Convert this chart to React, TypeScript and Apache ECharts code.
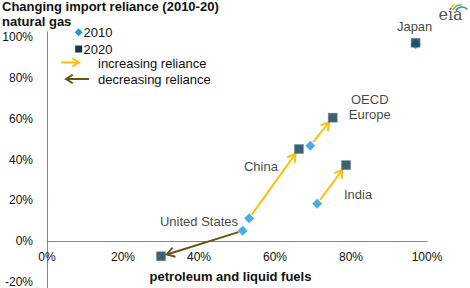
import React, { useEffect, useRef } from "react";
import * as echarts from "echarts";

const countries = ["United States", "China", "OECD Europe", "India", "Japan"];
const countryLabels = ["United States", "China", "OECD\nEurope", "India", "Japan"];
const petrol2010 = [51.5, 53.2, 69.3, 71.1, 97.0];
const gas2010 = [5.0, 11.2, 46.8, 18.3, 96.7];
const petrol2020 = [30.0, 66.3, 75.2, 78.7, 97.0];
const gas2020 = [-7.5, 45.2, 60.6, 37.3, 97.4];
const yTicks = [-20, 0, 20, 40, 60, 80, 100];

const FONT = "Arial, 'Liberation Sans', sans-serif";
const BLUE = "#1a9bd7";
const NAVY = "#0d3a52";
const YELLOW = "#fcbf0f";
const BROWN = "#6b5211";
const TEXT = "#111";
const AXIS = "#868686";

// label offsets (pixels) relative to the 2020 marker
const labelOffsets: [number, number][] = [
  [38, -35],
  [-38, 17],
  [37, -11],
  [12, 29],
  [-1, -16],
];

export default function App() {
  const ref = useRef<HTMLDivElement>(null);
  useEffect(() => {
    if (!ref.current) return;
    const chart = echarts.init(ref.current, null, { renderer: "svg" });

    const arrowData = countries.map((c, i) => [
      petrol2010[i],
      gas2010[i],
      petrol2020[i],
      gas2020[i],
    ]);

    const chevron = (tx: number, ty: number, ux: number, uy: number, len: number) => {
      const ang = (32 * Math.PI) / 180;
      const bx = -ux, by = -uy;
      const r1x = bx * Math.cos(ang) - by * Math.sin(ang);
      const r1y = bx * Math.sin(ang) + by * Math.cos(ang);
      const r2x = bx * Math.cos(-ang) - by * Math.sin(-ang);
      const r2y = bx * Math.sin(-ang) + by * Math.cos(-ang);
      return [
        [tx + r1x * len, ty + r1y * len],
        [tx, ty],
        [tx + r2x * len, ty + r2y * len],
      ];
    };

    const legendArrow = (x1: number, x2: number, y: number, color: string) => {
      const dir = x2 > x1 ? 1 : -1;
      return [
        { type: "line", shape: { x1, y1: y, x2: x2 - dir * 1, y2: y }, style: { stroke: color, lineWidth: 2 } },
        {
          type: "polyline",
          shape: { points: chevron(x2, y, dir, 0, 8) },
          style: { stroke: color, lineWidth: 2, fill: "none" },
        },
      ];
    };

    chart.setOption({
      animation: false,
      grid: [
        { left: 47, right: 43, top: 31.7, bottom: 0, containLabel: false, outerBoundsMode: "none" },
        { left: 47, right: 43, top: 31.7, bottom: 47, containLabel: false, outerBoundsMode: "none" },
      ],
      xAxis: [
        {
          type: "value",
          gridIndex: 0,
          min: 0,
          max: 100,
          interval: 20,
          axisLine: { show: false },
          axisTick: { show: false },
          splitLine: { show: false },
          axisLabel: { show: false },
        },
        {
          type: "value",
          gridIndex: 1,
          min: 0,
          max: 100,
          interval: 20,
          axisLine: { onZero: false, lineStyle: { color: AXIS, width: 1 } },
          axisTick: { show: false },
          splitLine: { show: false },
          axisLabel: {
            formatter: (v: number) => v + "%",
            color: TEXT,
            fontSize: 12,
            fontFamily: FONT,
            margin: 10,
          },
        },
      ],
      yAxis: [
        {
          type: "value",
          gridIndex: 0,
          min: -23.1,
          max: 102.85,
          axisLine: { show: true, onZero: false, lineStyle: { color: AXIS, width: 1 } },
          axisTick: { show: false },
          splitLine: { show: false },
          axisLabel: {
            customValues: yTicks,
            formatter: (v: number) => Math.round(v) + "%",
            color: TEXT,
            fontSize: 12,
            fontFamily: FONT,
            margin: 14,
          },
        },
        {
          type: "value",
          gridIndex: 1,
          min: 0,
          max: 100,
          show: false,
        },
      ],
      series: [
        {
          type: "custom",
          z: 1,
          xAxisIndex: 0,
          yAxisIndex: 0,
          encode: { x: [0, 2], y: [1, 3] },
          data: arrowData,
          renderItem: (params: any, api: any) => {
            const p1 = api.coord([api.value(0), api.value(1)]);
            const p2 = api.coord([api.value(2), api.value(3)]);
            const dx = p2[0] - p1[0];
            const dy = p2[1] - p1[1];
            const d = Math.sqrt(dx * dx + dy * dy);
            if (d < 14) return { type: "group", children: [] };
            const ux = dx / d, uy = dy / d;
            const sx = p1[0] + ux * 4.5, sy = p1[1] + uy * 4.5;
            const tx = p2[0] - ux * 6, ty = p2[1] - uy * 6;
            const color = api.value(3) > api.value(1) ? YELLOW : BROWN;
            return {
              type: "group",
              children: [
                { type: "line", shape: { x1: sx, y1: sy, x2: tx - ux, y2: ty - uy }, style: { stroke: color, lineWidth: 2 } },
                {
                  type: "polyline",
                  shape: { points: chevron(tx, ty, ux, uy, 9) },
                  style: { stroke: color, lineWidth: 2, fill: "none" },
                },
              ],
            };
          },
        },
        {
          type: "scatter",
          name: "2010",
          z: 3,
          xAxisIndex: 0,
          yAxisIndex: 0,
          symbol: "diamond",
          symbolSize: 10,
          itemStyle: { color: BLUE },
          data: petrol2010.map((x, i) => [x, gas2010[i]]),
        },
        {
          type: "scatter",
          name: "2020",
          z: 4,
          xAxisIndex: 0,
          yAxisIndex: 0,
          symbol: "rect",
          symbolSize: 9,
          itemStyle: { color: NAVY, borderColor: "#5b7d90", borderWidth: 0.5 },
          data: petrol2020.map((x, i) => ({
            value: [x, gas2020[i]],
            label: {
              show: true,
              position: "inside",
              offset: labelOffsets[i],
              formatter: countryLabels[i],
              color: TEXT,
              fontSize: 13,
              fontFamily: FONT,
              lineHeight: 15,
              align: "center",
              verticalAlign: "middle",
            },
          })),
        },
      ],
      graphic: [
        {
          type: "text",
          left: 2,
          top: 0,
          style: { text: "Changing import reliance (2010-20)", font: `bold 13px ${FONT}`, fill: TEXT },
        },
        {
          type: "text",
          left: 2,
          top: 15,
          style: { text: "natural gas", font: `bold 13px ${FONT}`, fill: TEXT },
        },
        {
          type: "text",
          x: 230.5,
          y: 276.7,
          style: {
            text: "petroleum and liquid fuels",
            font: `bold 13px ${FONT}`,
            fill: TEXT,
            align: "center",
            verticalAlign: "middle",
          },
        },
        // legend
        {
          type: "polygon",
          shape: { points: [[78.7, 28.3], [82.7, 32.3], [78.7, 36.3], [74.7, 32.3]] },
          style: { fill: BLUE },
        },
        {
          type: "text",
          x: 83.5,
          y: 32.3,
          style: { text: "2010", font: `13px ${FONT}`, fill: TEXT, verticalAlign: "middle" },
        },
        {
          type: "rect",
          shape: { x: 75.2, y: 45.5, width: 7, height: 7 },
          style: { fill: NAVY },
        },
        {
          type: "text",
          x: 83.5,
          y: 49,
          style: { text: "2020", font: `13px ${FONT}`, fill: TEXT, verticalAlign: "middle" },
        },
        ...legendArrow(61, 79, 62.5, YELLOW),
        ...legendArrow(89, 66, 79, BROWN),
        {
          type: "text",
          x: 98,
          y: 63,
          style: { text: "increasing reliance", font: `13px ${FONT}`, fill: TEXT, verticalAlign: "middle" },
        },
        {
          type: "text",
          x: 98,
          y: 79.5,
          style: { text: "decreasing reliance", font: `13px ${FONT}`, fill: TEXT, verticalAlign: "middle" },
        },
        // eia logo
        {
          type: "arc",
          shape: { cx: 460, cy: 14, r: 11, startAngle: (200 * Math.PI) / 180, endAngle: (240 * Math.PI) / 180 },
          style: { stroke: "#f4c400", lineWidth: 1.6, fill: "none" },
        },
        {
          type: "arc",
          shape: { cx: 461, cy: 14, r: 9, startAngle: (205 * Math.PI) / 180, endAngle: (275 * Math.PI) / 180 },
          style: { stroke: "#7ab648", lineWidth: 1.6, fill: "none" },
        },
        {
          type: "arc",
          shape: { cx: 462, cy: 14, r: 7, startAngle: (210 * Math.PI) / 180, endAngle: (320 * Math.PI) / 180 },
          style: { stroke: "#2a8fd0", lineWidth: 1.6, fill: "none" },
        },
        {
          type: "text",
          x: 438.5,
          y: 14.5,
          style: { text: "eia", font: `16px 'DejaVu Serif', serif`, fill: "#555", verticalAlign: "middle" },
        },
      ],
    });
    return () => chart.dispose();
  }, []);
  return <div ref={ref} style={{ position: "absolute", left: 0, top: 0, width: 470, height: 288 }} />;
}
